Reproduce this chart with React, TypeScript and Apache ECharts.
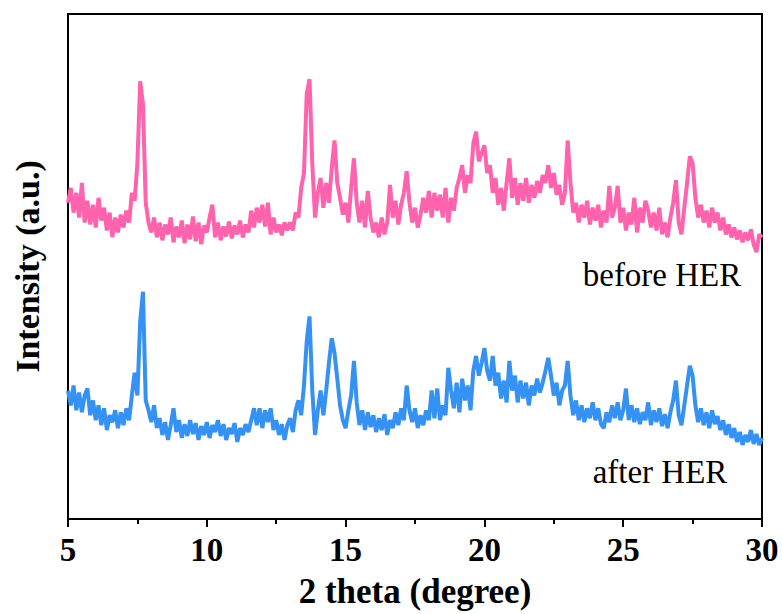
import React, { useEffect, useRef } from "react";
import * as echarts from "echarts";

const xStart = 5.0;
const xStep = 0.1;

const beforeHER = [
  320, 335, 310, 330, 305, 340, 300, 322, 298, 318,
  295, 325, 302, 315, 292, 310, 285, 305, 290, 308,
  295, 312, 300, 330, 322, 360, 443, 420, 320, 300,
  290, 305, 285, 300, 282, 298, 288, 305, 280, 296,
  285, 302, 279, 298, 283, 306, 281, 300, 278, 297,
  290, 305, 318, 285, 300, 282, 296, 286, 301, 284,
  297, 288, 302, 285, 298, 290, 312, 295, 315, 300,
  318, 296, 320, 288, 305, 290, 298, 287, 300, 292,
  300, 292, 310, 305, 335, 350, 430, 445, 360, 305,
  330, 345, 315, 340, 320, 355, 383, 340, 325, 308,
  320, 300, 335, 365, 320, 300, 322, 295, 332, 305,
  290, 300, 285, 305, 288, 300, 338, 305, 322, 298,
  318, 330, 352, 320, 300, 315, 295, 308, 325, 310,
  332, 305, 330, 312, 328, 305, 335, 300, 325, 312,
  335, 345, 358, 330, 348, 340, 380, 392, 362, 370,
  378, 350, 358, 330, 345, 318, 335, 312, 340, 365,
  325, 345, 318, 340, 322, 345, 320, 338, 325, 342,
  330, 348, 340, 358, 335, 350, 328, 338, 318, 330,
  383, 340, 310, 320, 300, 318, 305, 322, 298, 315,
  302, 318, 295, 312, 300, 337, 305, 315, 337, 300,
  315, 292, 310, 298, 325, 290, 315, 300, 322, 312,
  295, 310, 292, 315, 288, 300, 285, 305, 320, 343,
  300, 288, 315, 340, 367, 360, 325, 305, 318, 300,
  312, 295, 315, 300, 310, 292, 305, 288, 298, 285,
  295, 283, 292, 280, 290, 282, 293, 278, 270, 288,
  285,
];

const afterHER = [
  130, 115, 135, 110, 128, 108, 125, 132, 105, 120,
  100, 115, 95, 112, 90, 105, 98, 110, 92, 108,
  95, 112, 100, 125, 148, 125, 200, 230, 120, 110,
  98, 115, 92, 102, 85, 98, 80, 95, 112, 88,
  100, 82, 96, 84, 100, 86, 97, 80, 94, 85,
  98, 82, 95, 88, 100, 84, 96, 80, 92, 86,
  97, 78, 92, 85, 96, 88, 100, 112, 95, 112,
  92, 110, 98, 112, 90, 100, 85, 96, 80, 95,
  102, 88, 110, 120, 105, 135, 180, 205, 130, 85,
  110, 130, 105, 130, 158, 183, 168, 142, 115, 100,
  92, 110, 125, 160, 118, 95, 110, 90, 108, 93,
  105, 88, 102, 90, 106, 85, 100, 92, 108, 95,
  112, 100, 135, 110, 98, 112, 92, 105, 95, 110,
  100, 130, 102, 132, 100, 115, 105, 153, 130, 112,
  138, 108, 142, 120, 135, 110, 150, 165, 145, 158,
  173, 150, 140, 165, 135, 148, 122, 140, 118, 160,
  130, 145, 118, 140, 122, 138, 115, 135, 125, 142,
  128, 138, 150, 163, 145, 125, 138, 115, 130, 135,
  160, 125, 105, 120, 100, 115, 98, 112, 102, 118,
  100, 112, 96, 92, 108, 98, 115, 102, 118, 100,
  110, 132, 100, 115, 98, 112, 96, 108, 100, 118,
  95, 110, 98, 112, 94, 106, 92, 108, 120, 140,
  105, 95, 115, 135, 155, 145, 115, 98, 112, 95,
  108, 92, 110, 96, 104, 90, 100, 85, 96, 82,
  92, 78, 88, 75, 85, 78, 90, 76, 86, 75,
  82,
];

const xTicks = [5, 10, 15, 20, 25, 30];
const seriesNames = ["before HER", "after HER"];

const toPairs = (vals: number[]) =>
  vals.map((v, i) => [Number((xStart + i * xStep).toFixed(2)), v]);

export default function App() {
  const ref = useRef<HTMLDivElement>(null);
  useEffect(() => {
    if (!ref.current) return;
    const chart = echarts.init(ref.current, undefined, { renderer: "svg" });
    const serif = "'Liberation Serif', 'Times New Roman', serif";
    chart.setOption({
      animation: false,
      backgroundColor: "#ffffff",
      grid: {
        left: 68,
        right: 20,
        top: 14,
        bottom: 89,
        show: true,
        borderColor: "#000",
        borderWidth: 2,
        backgroundColor: "transparent",
      },
      xAxis: {
        type: "value",
        min: xTicks[0],
        max: xTicks[xTicks.length - 1],
        interval: 5,
        name: "2 theta (degree)",
        nameLocation: "middle",
        nameGap: 55,
        nameTextStyle: { fontFamily: serif, fontWeight: "bold", fontSize: 35, color: "#000" },
        axisLine: { show: true, lineStyle: { color: "#000", width: 2 } },
        axisTick: { show: true, inside: false, length: 8, lineStyle: { color: "#000", width: 2 } },
        minorTick: { show: true, splitNumber: 2, length: 5, lineStyle: { color: "#000", width: 2 } },
        axisLabel: { fontFamily: serif, fontWeight: "bold", fontSize: 33, color: "#000", margin: 14 },
        splitLine: { show: false },
      },
      yAxis: {
        type: "value",
        min: 0,
        max: 511,
        name: "Intensity (a.u.)",
        nameLocation: "middle",
        nameGap: 24,
        nameTextStyle: { fontFamily: serif, fontWeight: "bold", fontSize: 34, color: "#000" },
        axisLine: { show: true, lineStyle: { color: "#000", width: 2 } },
        axisTick: { show: false },
        axisLabel: { show: false },
        splitLine: { show: false },
      },
      series: [
        {
          name: seriesNames[0],
          type: "line",
          data: toPairs(beforeHER),
          showSymbol: false,
          lineStyle: { color: "#ff63ae", width: 4 },
          itemStyle: { color: "#ff63ae" },
        },
        {
          name: seriesNames[1],
          type: "line",
          data: toPairs(afterHER),
          showSymbol: false,
          lineStyle: { color: "#3592f2", width: 4 },
          itemStyle: { color: "#3592f2" },
        },
      ],
      graphic: [
        {
          type: "text",
          x: 662,
          y: 275,
          style: {
            text: seriesNames[0],
            fontFamily: serif,
            fontSize: 33,
            fill: "#000",
            textAlign: "center",
            textVerticalAlign: "middle",
          },
        },
        {
          type: "text",
          x: 660,
          y: 472,
          style: {
            text: seriesNames[1],
            fontFamily: serif,
            fontSize: 33,
            fill: "#000",
            textAlign: "center",
            textVerticalAlign: "middle",
          },
        },
      ],
    });
    return () => chart.dispose();
  }, []);
  return (
    <div
      ref={ref}
      style={{ position: "fixed", left: 0, top: 0, width: 782, height: 614 }}
    />
  );
}
